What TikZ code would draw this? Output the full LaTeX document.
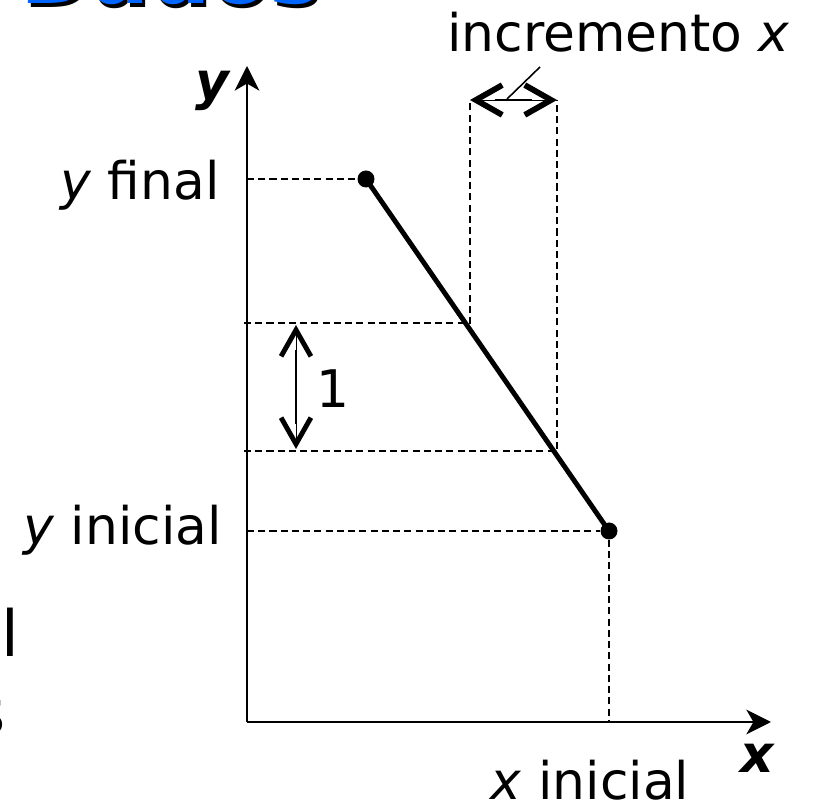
\documentclass[tikz,border=0pt]{standalone}
\usepackage{fontspec}
\setmainfont{DejaVu Sans}
\usetikzlibrary{arrows.meta}
\definecolor{azultitulo}{RGB}{0,102,255}

\tikzset{
  guia/.style={line width=1.1pt,dash pattern=on 4pt off 2.4pt},
  eixo/.style={line width=1.4pt,-{Stealth[length=14pt,width=14pt,inset=4pt]}},
  ponto/.style={circle,fill=black,inner sep=0pt,minimum size=0.34cm},
  rotulo/.style={inner sep=0pt,font=\fontsize{29.5}{35}\selectfont},
  pontas/.style={line width=0.05pt,{Straight Barb[length=15pt,width=17pt,line width=#1]}-{Straight Barb[length=15pt,width=17pt,line width=#1]}},
  haste/.style={line width=0.9pt,shorten <=14pt,shorten >=14pt},
  titulo/.style={inner sep=0pt,anchor=base west,font=\fontsize{48.8}{58}\selectfont\bfseries},
}

\begin{document}
\begin{tikzpicture}[x=0.02cm,y=-0.02cm]
\useasboundingbox (0,0) rectangle (819,803);
\clip (0,0) rectangle (819,803);
% restos do slide
\node[titulo,text=black] at (23,8) {Dados};
\node[titulo,text=azultitulo] at (20,4) {Dados};
\node[inner sep=0pt,anchor=base west,font=\fontsize{36.3}{43}\selectfont] at (1.5,657) {l};
\node[inner sep=0pt,anchor=base east,font=\fontsize{36.3}{43}\selectfont] at (6,735) {s};
% eixos
\coordinate (O) at (247,722);
\coordinate (topoy) at (247,66);
\coordinate (fimx) at (771,722);
\draw[eixo] (O) -- (topoy);
\draw[eixo] (O) -- (fimx);
\node[rotulo,anchor=base east] (ny) at (231,100) {\textbf{\textit{y}}};
\node[rotulo,anchor=base] (nx) at (758,773) {\textbf{\textit{x}}};
% pontos e segmento
\node[ponto] (A) at (366,179) {};
\node[ponto] (B) at (609,531) {};
\draw[line width=2.8pt] (A.center) -- (B.center);
% linhas de guia
\coordinate (yA) at (247,179);
\coordinate (yB) at (247,531);
\coordinate (xB) at (609,722);
\coordinate (p1) at (470,323);
\coordinate (p2) at (557,451);
\coordinate (h1) at (244,323);
\coordinate (h2) at (244,451);
\coordinate (v1) at (470,100);
\coordinate (v2) at (557,100);
\draw[guia] (yA) -- (A);
\draw[guia] (yB) -- (B);
\draw[guia] (B) -- (xB);
\draw[guia] (h1) -- (p1) -- (v1);
\draw[guia] (h2) -- (p2) -- (v2);
% incrementos
\coordinate (u1) at (296,325);
\coordinate (u2) at (296,449);
\draw[pontas=3.3pt] (v1) -- (v2);
\draw[haste] (v1) -- (v2);
\draw[pontas=2.8pt] (u1) -- (u2);
\draw[haste] (u1) -- (u2);
\node[rotulo,anchor=base west] (um) at (316,408) {1};
\node[rotulo,anchor=base west] (incr) at (447,52) {incremento \textit{x}};
\coordinate (seta) at (507,99);
\coordinate (ponta) at (540,67);
\draw[line width=0.9pt] (seta) -- (ponta);
% rotulos
\node[rotulo,anchor=base east] (yfin) at (220,200) {\textit{y} final};
\node[rotulo,anchor=base east] (yini) at (222,545) {\textit{y} inicial};
\node[rotulo,anchor=base] (xini) at (590,800) {\textit{x} inicial};
\end{tikzpicture}
\end{document}
